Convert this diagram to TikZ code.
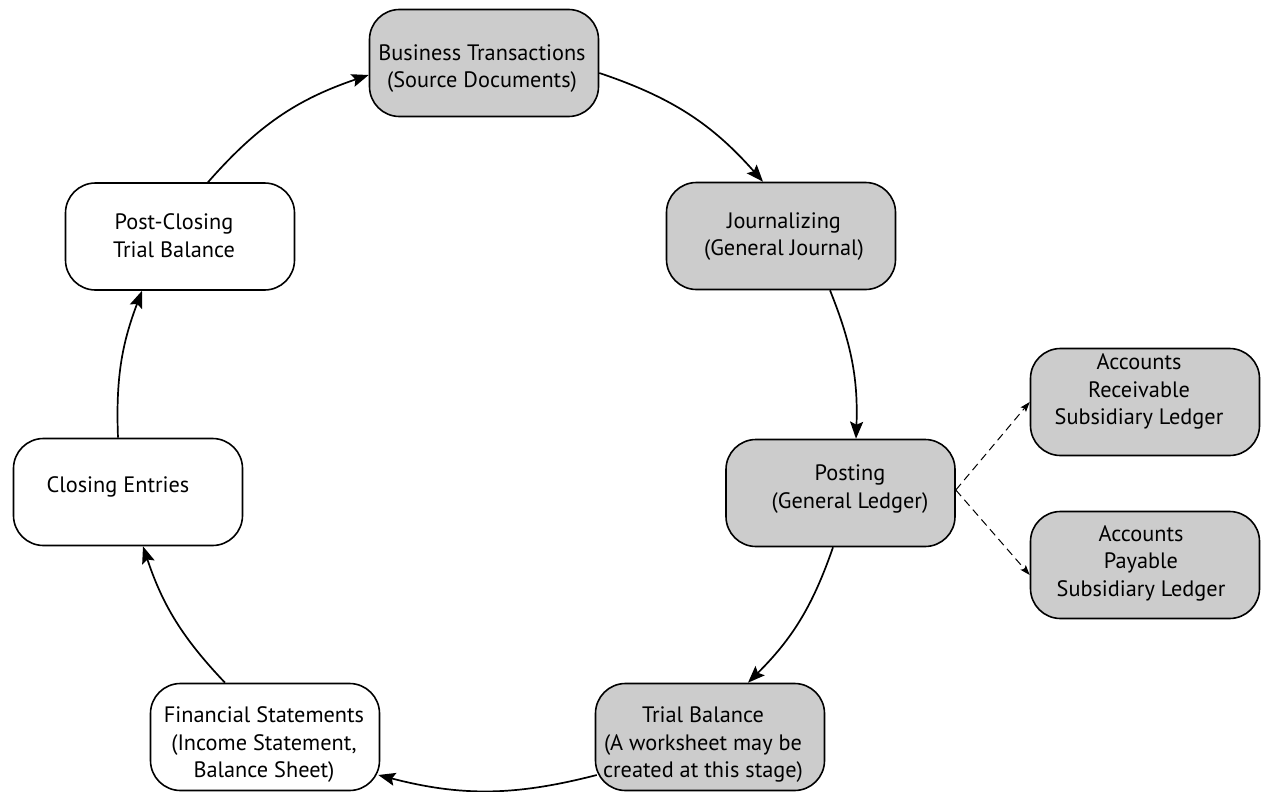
\documentclass[tikz,border=0pt]{standalone}
\usepackage{fontspec}
\setmainfont{PT Sans}
\usetikzlibrary{arrows.meta}
\definecolor{boxgray}{RGB}{204,204,204}
\begin{document}
\begin{tikzpicture}[x=1pt,y=-1pt,
  box/.style={draw, line width=1.6pt, rounded corners=30pt,
    minimum width=229pt, minimum height=107pt, inner sep=0pt},
  shaded/.style={box, fill=boxgray},
  plain/.style={box, fill=white},
  txt/.style={align=center, inner sep=0pt,
    font=\fontsize{22.3}{27.5}\selectfont},
  flow/.style={line width=1.7pt,
    -{Stealth[length=17pt,width=13pt,inset=3pt]}},
  branch/.style={line width=1pt, dash pattern=on 8pt off 5pt,
    -{Stealth[length=10pt,width=7pt,inset=2pt]}}]
\useasboundingbox (0,0) rectangle (1264,792);

% stage boxes of the accounting cycle
\node[shaded] (bt) at (484,63)    {};
\node[shaded] (jr) at (781,236)   {};
\node[shaded] (po) at (840.5,493) {};
\node[shaded] (ar) at (1145,402)  {};
\node[shaded] (ap) at (1145,565)  {};
\node[shaded] (tb) at (710,737)   {};
\node[plain]  (fs) at (265,737)   {};
\node[plain]  (ce) at (128,492)   {};
\node[plain]  (pc) at (180,236.5) {};

% box captions
\node[txt] (btt) at (482,68.5)  {Business Transactions\\(Source Documents)};
\node[txt] (jrt) at (784,236.5) {Journalizing\\(General Journal)};
\node[txt] (pot) at (850,489)   {Posting\\(General Ledger)};
\node[txt] (art) at (1139,391.5){Accounts\\Receivable\\Subsidiary Ledger};
\node[txt] (apt) at (1141,563)  {Accounts\\Payable\\Subsidiary Ledger};
\node[txt] (tbt) at (703,745)   {Trial Balance\\(A worksheet may be\\created at this stage)};
\node[txt] (fst) at (264,745)   {Financial Statements\\(Income Statement,\\Balance Sheet)};
\node[txt] (cet) at (118,487)   {Closing Entries};
\node[txt] (pct) at (174,235.5) {Post-Closing\\Trial Balance};

% the cycle, drawn clockwise
\draw[flow] ([shift={(0,10)}]bt.east)    to[bend left=15]   ([shift={(-18,0)}]jr.north);
\draw[flow] ([shift={(49,0)}]jr.south)   to[bend left=12]   ([shift={(15.5,0)}]po.north);
\draw[flow] ([shift={(-7.5,0)}]po.south) to[bend left=13]   ([shift={(38,0)}]tb.north);
\draw[flow] ([shift={(2,38)}]tb.west)    to[bend left=14.5] ([shift={(-2,38)}]fs.east);
\draw[flow] ([shift={(-40,0)}]fs.north)  to[bend left=12.5] ([shift={(15,0)}]ce.south);
\draw[flow] ([shift={(-10,0)}]ce.north)  to[bend left=11.5] ([shift={(-38,0)}]pc.south);
\draw[flow] ([shift={(28,0)}]pc.north)   to[bend left=15]   ([shift={(0,12)}]bt.west);

% postings to the subsidiary ledgers
\draw[branch] ([shift={(0,-3)}]po.east) -- (ar.west);
\draw[branch] ([shift={(0,-3)}]po.east) -- ([shift={(0,10)}]ap.west);
\end{tikzpicture}
\end{document}
